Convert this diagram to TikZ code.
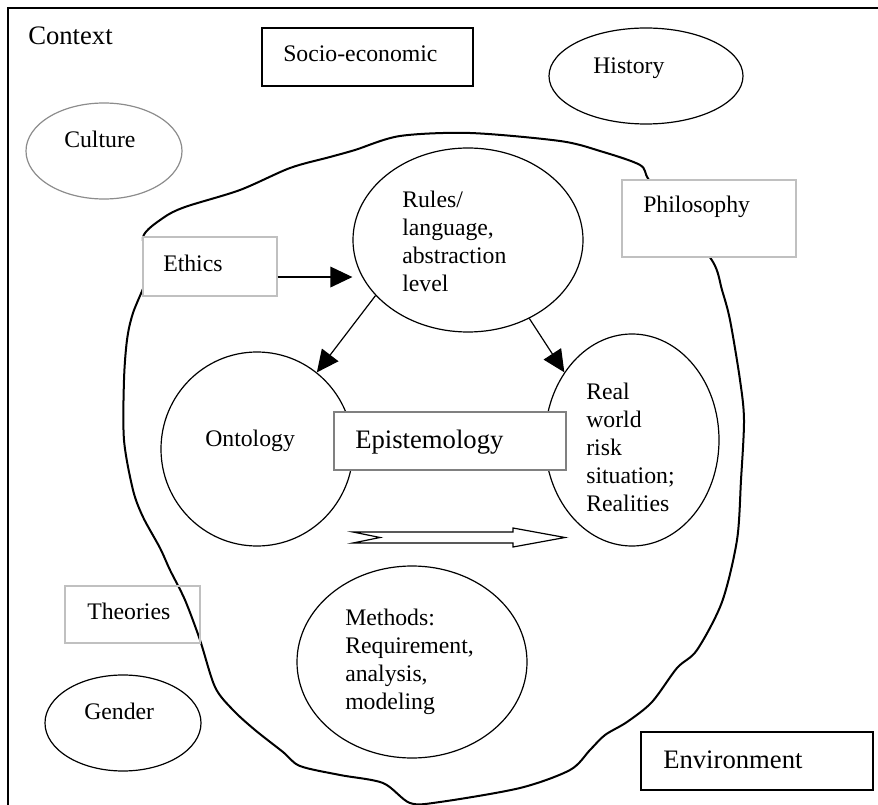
\documentclass[tikz,border=0pt]{standalone}
\usepackage{fontspec}
\setmainfont{Liberation Serif}
\usetikzlibrary{arrows.meta,shapes.geometric}
\definecolor{lgray}{RGB}{192,192,192}
\definecolor{mgray}{RGB}{140,140,140}
\definecolor{dgray}{RGB}{128,128,128}

\begin{document}
\begin{tikzpicture}[x=0.75pt,y=-0.75pt,
  txt/.style={anchor=base west,inner sep=0pt,font=\fontsize{17.8}{21}\selectfont},
  bigtxt/.style={txt,font=\fontsize{20}{24}\selectfont},
  lines/.style={anchor=north west,inner sep=0pt,align=left,font=\fontsize{17.8}{21}\selectfont},
  bubble/.style={draw,ellipse,inner sep=0pt,line width=0.9pt},
  box/.style={draw,rectangle,inner sep=0pt,line width=0.9pt},
  greybox/.style={box,draw=lgray,line width=1.1pt,fill=white},
  arr/.style={-{Triangle[length=16.5pt,width=15.5pt]},line width=0.9pt}]
\clip (0,0) rectangle (878,805);

% frame
\draw[line width=1pt] (8,830) -- (8,8) -- (900,8);
\node[bigtxt] (context) at (28,45) {Context};

% the blob
\draw[line width=1.5pt] plot[smooth cycle,tension=0.5] coordinates {
  (143,237) (163,218) (185,207) (240,190) (290,168) (330,157) (355,150)
  (400,136) (470,133) (560,141) (600,151) (640,165) (649,180) (680,220)
  (713,262) (722,290) (730,320) (740,380) (744,420) (741,480) (737,540)
  (722,602) (697,650) (677,668) (652,702) (627,722) (605,735) (590,750)
  (570,770) (520,788) (440,802) (410,803) (383,783) (340,775) (300,766)
  (283,752) (255,730) (233,710) (215,687) (200,640) (185,600) (170,570)
  (160,548) (143,517) (133,490) (124,440) (124,380) (127,340) (133,313)
  (150,268)};

% outside
\node[box,minimum width=158.25pt,minimum height=43.5pt] (socio) at (367.5,57) {};
\node[txt] at (283,62) {Socio-economic};
\node[bubble,minimum width=145.5pt,minimum height=72pt] (history) at (646,76) {};
\node[txt] at (593,74) {History};
\node[bubble,draw=mgray,minimum width=117pt,minimum height=72pt] (culture) at (104,151) {};
\node[txt] at (64,148) {Culture};
\node[greybox,minimum width=130.5pt,minimum height=57.75pt] (philo) at (709,218.5) {};
\node[txt] at (643,213) {Philosophy};
\node[greybox,minimum width=100.5pt,minimum height=44.25pt] (ethics) at (210,266.5) {};
\node[txt] at (163,272) {Ethics};
\node[greybox,fill=none,minimum width=101.25pt,minimum height=42.75pt] (theories) at (132.5,614.5) {};
\node[txt] at (87,619) {Theories};
\node[bubble,minimum width=117pt,minimum height=72pt] (gender) at (123,723) {};
\node[txt] at (84,719) {Gender};
\node[box,minimum width=174pt,minimum height=43.5pt] (environ) at (757,761) {};
\node[bigtxt] at (663,768) {Environment};

% inside
\node[bubble,minimum width=172.5pt,minimum height=138pt] (rules) at (468,240) {};
\node[lines] at (402,187.4) {\strut Rules/\\language,\\abstraction\\level};
\node[bubble,minimum width=144pt,minimum height=145.5pt] (onto) at (257,449) {};
\node[txt] at (205,446) {Ontology};
\node[bubble,minimum width=130.5pt,minimum height=159pt] (real) at (632,440) {};
\node[lines] at (586,379.4) {\strut Real\\world\\risk\\situation;\\Realities};
\node[box,draw=dgray,fill=white,line width=1.1pt,minimum width=174pt,minimum height=43.5pt] (episte) at (450,441) {};
\node[bigtxt] at (355,448) {Epistemology};
\node[bubble,minimum width=172.5pt,minimum height=144pt] (methods) at (412,662) {};
\node[lines] at (345,605.4) {\strut Methods:\\Requirement,\\analysis,\\modeling};

\draw[arr] ([yshift=-7.9pt]ethics.east) -- ([yshift=-7.9pt]ethics.east -| rules.west);
\draw[arr] (rules.211) -- (onto.52);
\draw[arr] (rules.308) -- (real.135);
\draw[line width=0.9pt] (353,532) -- (513,532) -- (513,528) -- (565,537.5)
  -- (513,547) -- (513,543) -- (353,543) -- (380,537.5) -- cycle;
\end{tikzpicture}
\end{document}
